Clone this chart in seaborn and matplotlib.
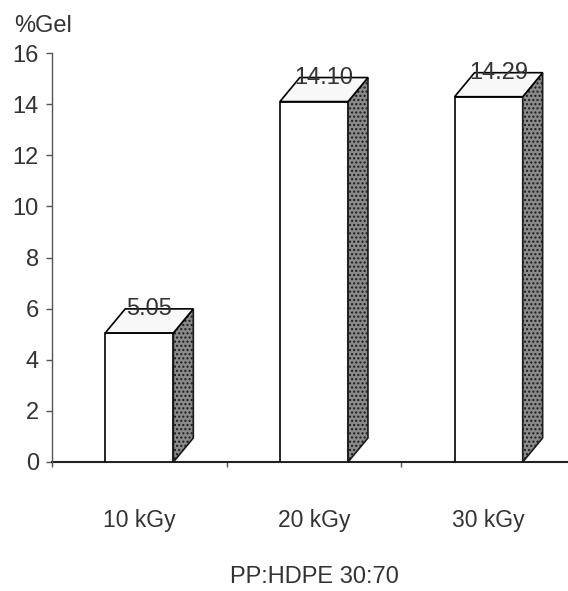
import matplotlib
matplotlib.use("Agg")
import matplotlib.pyplot as plt
from matplotlib.patches import Polygon
from matplotlib.ticker import FixedLocator
import pandas as pd
import seaborn as sns

# Gel content of the irradiated blend at each dose
doses = ["10 kGy", "20 kGy", "30 kGy"]
gel_percent = [5.05, 14.10, 14.29]
value_labels = ["5.05", "14.10", "14.29"]
y_ticks = [0, 2, 4, 6, 8, 10, 12, 14, 16]
y_title = "%Gel"
blend_label = "PP:HDPE 30:70"

df = pd.DataFrame({"dose": doses, "gel": gel_percent})

sns.set_theme(style="ticks")
plt.rcParams["font.family"] = ["Liberation Sans", "DejaVu Sans"]

W, H = 568, 591
PX = 72 / 100  # points per pixel at 100 dpi
fig = plt.figure(figsize=(W / 100, H / 100), dpi=100)
fig.patch.set_facecolor("white")
ax = fig.add_axes([52 / W, 129 / H, 524 / W, 409 / H])

TEXT = "#333333"
sns.barplot(data=df, x="dose", y="gel", ax=ax, width=0.39, color="white",
            saturation=1, edgecolor="black", linewidth=1.2, zorder=3)
ax.set_xlim(-0.5, 2.5)
ax.set_ylim(0, 16)
ax.set_yticks(y_ticks)

# pseudo-3D depth of every box (x in category units, y in % units)
DX, DY = 0.114, 0.94
for bar, lab in zip(ax.patches, value_labels):
    x0 = bar.get_x()
    x1 = x0 + bar.get_width()
    h = bar.get_height()
    top = Polygon([(x0, h), (x1, h), (x1 + DX, h + DY), (x0 + DX, h + DY)],
                  closed=True, facecolor="#f8f8f8", edgecolor="black",
                  linewidth=1.2, zorder=3, clip_on=False)
    side = Polygon([(x1, 0), (x1 + DX, DY), (x1 + DX, h + DY), (x1, h)],
                   closed=True, facecolor="#8a8a8a", edgecolor="#1a1a1a",
                   linewidth=1.2, hatch="....", zorder=3, clip_on=False)
    ax.add_patch(side)
    ax.add_patch(top)
    ax.text(x0 + bar.get_width() / 2 + DX / 2, h + DY, lab, ha="center",
            va="center", fontsize=17, color=TEXT, zorder=5, clip_on=False)

# axes styling
sns.despine(ax=ax, top=True, right=True)
ax.spines["left"].set_color("#555555")
ax.spines["left"].set_linewidth(1.0)
ax.spines["bottom"].set_color("#222222")
ax.spines["bottom"].set_linewidth(1.5)
ax.spines["bottom"].set_zorder(2)

ax.tick_params(axis="y", direction="out", length=6 * PX, width=1,
               pad=7 * PX, labelsize=17, color="#555555", labelcolor=TEXT)
ax.tick_params(axis="x", which="major", length=0, pad=34, labelsize=16.5,
               labelcolor=TEXT)
ax.xaxis.set_minor_locator(FixedLocator([-0.5, 0.5, 1.5, 2.5]))
ax.tick_params(axis="x", which="minor", direction="out", length=5 * PX,
               width=1, color="#555555")

ax.set_xlabel(blend_label, fontsize=17, color=TEXT)
ax.xaxis.set_label_coords(0.5, -(566 - 462) / 409)
ax.set_ylabel("")
fig.text(14 / W, 1 - 32 / H, y_title, fontsize=17, color=TEXT,
         ha="left", va="baseline")

fig.savefig("out.png", dpi=100, facecolor="white")
